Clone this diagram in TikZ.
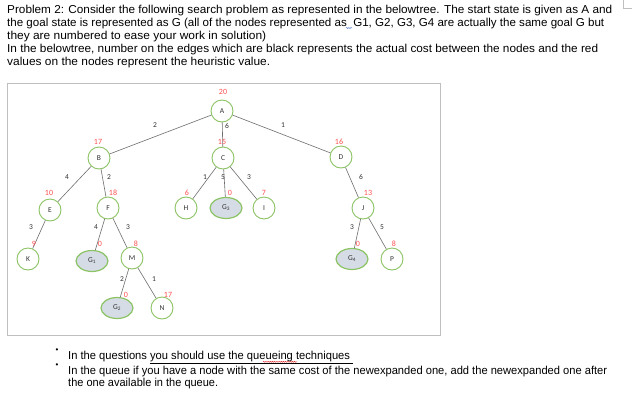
\documentclass[tikz,border=0pt]{standalone}
\usepackage{fontspec}
\setmainfont{Liberation Sans}
\newfontfamily\nodefont{Carlito}
\usetikzlibrary{shapes.geometric,decorations.pathmorphing}
\definecolor{ngreen}{RGB}{140,195,100}
\definecolor{goalfill}{RGB}{214,220,229}
\definecolor{hred}{RGB}{255,80,80}
\definecolor{edgegray}{RGB}{110,110,110}
\definecolor{boxgray}{RGB}{191,191,191}
\definecolor{txtgray}{RGB}{50,50,50}
\definecolor{spellred}{RGB}{230,40,40}
\definecolor{spellblue}{RGB}{70,110,200}
\newcommand\fitline[2]{\resizebox{#1}{\height}{#2}}
\begin{document}
\begin{tikzpicture}[x=1pt,y=-1pt,
  st/.style={circle, draw=ngreen, line width=0.9pt, minimum size=22pt, inner sep=0pt, font=\nodefont\fontsize{7.5}{8}\selectfont, text=txtgray},
  goal/.style={ellipse, draw=ngreen, line width=1.2pt, fill=goalfill, minimum width=32pt, minimum height=21pt, inner sep=0pt, font=\nodefont\fontsize{7.5}{8}\selectfont, text=txtgray},
  edge/.style={draw=edgegray, line width=0.6pt},
  hl/.style={text=hred, font=\nodefont\fontsize{8}{9}\selectfont, inner sep=0pt},
  el/.style={text=txtgray, font=\nodefont\fontsize{7.5}{9}\selectfont, inner sep=0pt},
  txt/.style={anchor=base west, inner sep=0pt, font=\fontsize{11.5}{12}\selectfont, text=black},
  bul/.style={inner sep=0pt, font=\fontsize{8}{9}\selectfont},
  squig/.style={decorate, decoration={snake, amplitude=0.5pt, segment length=2.2pt}, line width=0.45pt}
]
\useasboundingbox (0,0) rectangle (634,400);
\fill[white] (0,0) rectangle (634,400);
% page corner mark
\draw[boxgray, line width=0.8pt] (623,0) -- (623,8) -- (632,8);
% top text
\node[txt] (t1) at (7,13) {\fitline{605pt}{Problem 2: Consider the following search problem as represented in the belowtree. The start state is given as A and}};
\node[txt] (t2) at (7,26) {\fitline{597pt}{the goal state is represented as G (all of the nodes represented as\ \ G1, G2, G3, G4 are actually the same goal G but}};
\node[txt] (t3) at (7,39) {\fitline{259pt}{they are numbered to ease your work in solution)}};
\node[txt] (t4) at (7,52) {\fitline{591pt}{In the belowtree, number on the edges which are black represents the actual cost between the nodes and the red}};
\node[txt] (t5) at (7,65) {\fitline{263pt}{values on the nodes represent the heuristic value.}};
\draw[spellblue, squig] (346,28) -- (352,28);
% frame
\draw[boxgray, line width=1pt] (7,83) rectangle (440,335);
% nodes
\node[st] (A) at (222,111) {A};
\node[st] (B) at (99,158) {B};
\node[st] (C) at (223,158) {C};
\node[st] (D) at (341,157) {D};
\node[st] (E) at (50,210) {E};
\node[st] (F) at (108,208) {F};
\node[st] (H) at (186,208) {H};
\node[goal] (G3) at (226,208) {G\textsubscript{3}};
\node[st] (I) at (264,208) {I};
\node[st] (J) at (363,208) {J};
\node[st] (K) at (28,259) {K};
\node[goal] (G1) at (92,261) {G\textsubscript{1}};
\node[st] (M) at (132,258) {M};
\node[goal] (G4) at (352,259) {G\textsubscript{4}};
\node[st] (P) at (392,259) {P};
\node[goal] (G2) at (117,308) {G\textsubscript{2}};
\node[st] (N) at (162,308) {N};
% edges
\draw[edge] (A) -- (B);
\draw[edge] (A) -- (C);
\draw[edge] (A) -- (D);
\draw[edge] (B) -- (E);
\draw[edge] (B) -- (F);
\draw[edge] (C) -- (H);
\draw[edge] (C) -- (G3);
\draw[edge] (C) -- (I);
\draw[edge] (D) -- (J);
\draw[edge] (E) -- (K);
\draw[edge] (F) -- (G1);
\draw[edge] (F) -- (M);
\draw[edge] (M) -- (G2);
\draw[edge] (M) -- (N);
\draw[edge] (J) -- (G4);
\draw[edge] (J) -- (P);
% edge costs
\node[el] (cAB) at (155,125) {2};
\node[el] (cAC) at (227,126) {6};
\node[el] (cAD) at (283,125) {1};
\node[el] (cBE) at (67,177) {4};
\node[el] (cBF) at (109,177) {2};
\node[el] (cCH) at (205,177) {1};
\node[el] (cCG) at (223,177) {5};
\node[el] (cCI) at (249,177) {3};
\node[el] (cDJ) at (361,177) {6};
\node[el] (cEK) at (31,227) {3};
\node[el] (cFG) at (96,227) {4};
\node[el] (cFM) at (128,227) {3};
\node[el] (cMG) at (122,279) {2};
\node[el] (cMN) at (154,279) {1};
\node[el] (cJG) at (352,227) {3};
\node[el] (cJP) at (382,227) {5};
% heuristics
\node[hl] (hA) at (223,92) {20};
\node[hl] (hB) at (98,142) {17};
\node[hl] (hC) at (222,142) {15};
\node[hl] (hD) at (339,142) {16};
\node[hl] (hE) at (49,193) {10};
\node[hl] (hF) at (113,193) {18};
\node[hl] (hH) at (187,193) {6};
\node[hl] (hG3) at (230,193) {0};
\node[hl] (hI) at (264,193) {7};
\node[hl] (hJ) at (368,193) {13};
\node[hl] (hK) at (34,244) {9};
\node[hl] (hG1) at (100,244) {0};
\node[hl] (hM) at (136,244) {8};
\node[hl] (hG4) at (358,244) {0};
\node[hl] (hP) at (394,244) {8};
\node[hl] (hG2) at (126,295) {0};
\node[hl] (hN) at (168,295) {17};
% bullets
\node[bul] (b1) at (57,351) {\textbullet};
\node[bul] (b2) at (57,366) {\textbullet};
\node[txt] (u1) at (68,359) {\fitline{285pt}{In the questions \underline{you should use the queueing techniques\ }}};
\node[txt] (u2) at (68,374.5) {\fitline{539pt}{In the queue if you have a node with the same cost of the newexpanded one, add the newexpanded one after}};
\node[txt] (u3) at (68,386.5) {\fitline{150pt}{the one available in the queue.}};
\draw[spellred, squig] (263,361.8) -- (297,361.8);
\end{tikzpicture}
\end{document}
